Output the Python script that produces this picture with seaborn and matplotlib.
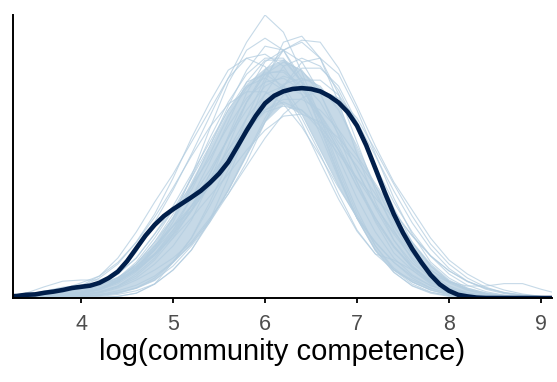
import numpy as np
import pandas as pd
import matplotlib
matplotlib.use("Agg")
import matplotlib.pyplot as plt
import seaborn as sns

# Evaluation grids for the observed density and the replicated densities
grid_y = np.round(np.arange(3.2, 9.2001, 0.1), 1)
grid_rep = np.round(np.arange(3.2, 9.2001, 0.2), 1)

# Density of the observed log(community competence)
y_density = [0.004, 0.005, 0.008, 0.009, 0.013, 0.016, 0.020, 0.025, 0.028, 0.031,
             0.038, 0.050, 0.066, 0.092, 0.124, 0.156, 0.183, 0.205, 0.222, 0.237,
             0.252, 0.268, 0.288, 0.311, 0.340, 0.379, 0.419, 0.456, 0.487, 0.506,
             0.517, 0.523, 0.525, 0.523, 0.517, 0.505, 0.489, 0.465, 0.431, 0.382,
             0.324, 0.265, 0.210, 0.163, 0.123, 0.089, 0.058, 0.034, 0.018, 0.008,
             0.004, 0.001, 0, 0, 0, 0, 0, 0, 0, 0, 0]

# Densities of posterior predictive draws
rep01 = [0.000, 0.001, 0.003, 0.008, 0.015, 0.030, 0.060, 0.115, 0.190, 0.270, 0.360, 0.455, 0.550, 0.640, 0.708, 0.665, 0.565, 0.450, 0.330, 0.220, 0.130, 0.070, 0.035, 0.015, 0.006, 0.002, 0.001, 0, 0, 0, 0]
rep02 = [0.002, 0.005, 0.011, 0.022, 0.038, 0.055, 0.100, 0.165, 0.240, 0.310, 0.390, 0.470, 0.550, 0.600, 0.610, 0.580, 0.510, 0.410, 0.300, 0.200, 0.120, 0.065, 0.030, 0.012, 0.004, 0.001, 0, 0, 0, 0, 0]
rep03 = [0, 0, 0.001, 0.003, 0.007, 0.015, 0.030, 0.060, 0.100, 0.160, 0.230, 0.310, 0.400, 0.490, 0.570, 0.620, 0.645, 0.640, 0.575, 0.480, 0.380, 0.290, 0.220, 0.150, 0.095, 0.060, 0.035, 0.020, 0.010, 0.004, 0.001]
rep04 = [0, 0.001, 0.003, 0.007, 0.014, 0.025, 0.045, 0.075, 0.120, 0.180, 0.250, 0.320, 0.400, 0.470, 0.530, 0.555, 0.540, 0.490, 0.410, 0.320, 0.230, 0.160, 0.100, 0.060, 0.040, 0.030, 0.030, 0.036, 0.036, 0.022, 0.010]
rep05 = [0, 0, 0.001, 0.003, 0.006, 0.012, 0.025, 0.045, 0.070, 0.100, 0.140, 0.200, 0.260, 0.340, 0.440, 0.530, 0.590, 0.600, 0.560, 0.470, 0.360, 0.250, 0.160, 0.090, 0.050, 0.025, 0.012, 0.005, 0.002, 0.001, 0]
rep06 = [0.001, 0.003, 0.007, 0.014, 0.022, 0.035, 0.060, 0.100, 0.160, 0.230, 0.310, 0.390, 0.470, 0.530, 0.550, 0.520, 0.450, 0.360, 0.260, 0.170, 0.110, 0.095, 0.070, 0.035, 0.012, 0.004, 0.001, 0, 0, 0, 0]
rep07 = [0, 0.001, 0.003, 0.006, 0.012, 0.022, 0.045, 0.085, 0.140, 0.210, 0.300, 0.400, 0.490, 0.560, 0.600, 0.600, 0.540, 0.430, 0.310, 0.200, 0.120, 0.070, 0.040, 0.020, 0.008, 0.003, 0.001, 0, 0, 0, 0]
rep08 = [0.004, 0.012, 0.028, 0.042, 0.045, 0.045, 0.060, 0.100, 0.160, 0.220, 0.280, 0.350, 0.430, 0.500, 0.540, 0.550, 0.520, 0.460, 0.380, 0.290, 0.200, 0.130, 0.075, 0.040, 0.020, 0.008, 0.003, 0.001, 0, 0, 0]
rep09 = [0, 0, 0, 0, 0.001, 0.002, 0.004, 0.012, 0.035, 0.090, 0.150, 0.240, 0.340, 0.450, 0.550, 0.620, 0.640, 0.600, 0.510, 0.390, 0.270, 0.170, 0.095, 0.050, 0.022, 0.009, 0.003, 0.001, 0, 0, 0]
rep10 = [0, 0.001, 0.002, 0.005, 0.011, 0.023, 0.046, 0.085, 0.140, 0.200, 0.270, 0.360, 0.455, 0.525, 0.565, 0.565, 0.526, 0.457, 0.369, 0.278, 0.194, 0.127, 0.077, 0.044, 0.023, 0.011, 0.005, 0.002, 0.001, 0, 0]
rep11 = [0.001, 0.003, 0.007, 0.014, 0.028, 0.050, 0.085, 0.140, 0.210, 0.300, 0.400, 0.490, 0.570, 0.600, 0.579, 0.520, 0.436, 0.340, 0.247, 0.167, 0.110, 0.070, 0.045, 0.025, 0.012, 0.005, 0.002, 0.001, 0, 0, 0]
rep12 = [0.001, 0.002, 0.003, 0.007, 0.013, 0.024, 0.041, 0.068, 0.106, 0.156, 0.217, 0.286, 0.356, 0.421, 0.470, 0.497, 0.497, 0.470, 0.421, 0.356, 0.286, 0.217, 0.156, 0.106, 0.068, 0.041, 0.024, 0.013, 0.007, 0.003, 0.002]
rep13 = [0, 0.001, 0.002, 0.005, 0.010, 0.020, 0.040, 0.075, 0.125, 0.200, 0.305, 0.424, 0.538, 0.620, 0.650, 0.620, 0.538, 0.424, 0.305, 0.199, 0.118, 0.064, 0.031, 0.014, 0.006, 0.002, 0.001, 0, 0, 0, 0]
rep14 = [0, 0.001, 0.001, 0.002, 0.004, 0.009, 0.018, 0.032, 0.055, 0.090, 0.135, 0.195, 0.268, 0.356, 0.441, 0.508, 0.545, 0.545, 0.508, 0.441, 0.356, 0.268, 0.188, 0.123, 0.074, 0.042, 0.022, 0.011, 0.005, 0.002, 0.001]
rep15 = [0, 0, 0.001, 0.003, 0.007, 0.014, 0.028, 0.050, 0.085, 0.130, 0.195, 0.291, 0.405, 0.513, 0.591, 0.620, 0.591, 0.513, 0.405, 0.291, 0.190, 0.113, 0.070, 0.038, 0.020, 0.009, 0.004, 0.002, 0.001, 0, 0]
rep16 = [0.002, 0.004, 0.008, 0.017, 0.031, 0.055, 0.089, 0.139, 0.202, 0.276, 0.355, 0.428, 0.485, 0.516, 0.516, 0.485, 0.428, 0.355, 0.276, 0.202, 0.139, 0.089, 0.055, 0.031, 0.017, 0.008, 0.004, 0.002, 0.001, 0, 0]
rep17 = [0, 0, 0.001, 0.002, 0.003, 0.006, 0.012, 0.025, 0.050, 0.090, 0.150, 0.230, 0.320, 0.420, 0.510, 0.580, 0.600, 0.580, 0.520, 0.430, 0.330, 0.240, 0.165, 0.105, 0.060, 0.032, 0.016, 0.007, 0.003, 0.001, 0]
rep18 = [0.002, 0.004, 0.008, 0.014, 0.022, 0.032, 0.050, 0.080, 0.120, 0.170, 0.230, 0.290, 0.360, 0.420, 0.465, 0.480, 0.470, 0.430, 0.370, 0.300, 0.230, 0.165, 0.110, 0.070, 0.042, 0.024, 0.013, 0.007, 0.003, 0.001, 0]
rep19 = [0, 0.001, 0.003, 0.007, 0.013, 0.022, 0.040, 0.075, 0.130, 0.180, 0.220, 0.280, 0.380, 0.490, 0.560, 0.570, 0.530, 0.450, 0.350, 0.250, 0.165, 0.100, 0.058, 0.031, 0.015, 0.007, 0.003, 0.001, 0, 0, 0]
rep20 = [0, 0, 0.001, 0.002, 0.004, 0.008, 0.014, 0.025, 0.045, 0.080, 0.130, 0.190, 0.260, 0.330, 0.400, 0.460, 0.500, 0.520, 0.500, 0.450, 0.370, 0.285, 0.205, 0.135, 0.085, 0.050, 0.027, 0.013, 0.006, 0.003, 0.001]
rep21 = [0.001, 0.003, 0.006, 0.012, 0.020, 0.030, 0.050, 0.090, 0.150, 0.220, 0.300, 0.380, 0.470, 0.540, 0.560, 0.530, 0.460, 0.370, 0.280, 0.200, 0.140, 0.090, 0.050, 0.025, 0.011, 0.004, 0.001, 0, 0, 0, 0]
rep22 = [0, 0, 0, 0, 0, 0.001, 0.004, 0.012, 0.035, 0.070, 0.120, 0.195, 0.300, 0.420, 0.540, 0.640, 0.655, 0.600, 0.490, 0.360, 0.240, 0.145, 0.080, 0.040, 0.018, 0.007, 0.002, 0.001, 0, 0, 0]
rep23 = [0.001, 0.002, 0.004, 0.008, 0.014, 0.024, 0.040, 0.070, 0.110, 0.165, 0.230, 0.300, 0.370, 0.430, 0.470, 0.490, 0.470, 0.420, 0.360, 0.300, 0.250, 0.200, 0.140, 0.085, 0.045, 0.022, 0.010, 0.004, 0.002, 0.001, 0]
rep24 = [0, 0.001, 0.002, 0.004, 0.008, 0.016, 0.030, 0.055, 0.095, 0.150, 0.220, 0.310, 0.400, 0.490, 0.560, 0.590, 0.570, 0.510, 0.420, 0.320, 0.225, 0.145, 0.088, 0.050, 0.026, 0.012, 0.005, 0.002, 0.001, 0, 0]
rep25 = [0.001, 0.002, 0.004, 0.008, 0.014, 0.024, 0.042, 0.070, 0.120, 0.190, 0.280, 0.380, 0.480, 0.570, 0.630, 0.620, 0.550, 0.440, 0.320, 0.210, 0.130, 0.075, 0.040, 0.020, 0.009, 0.004, 0.001, 0, 0, 0, 0]
rep26 = [0, 0, 0, 0.001, 0.002, 0.004, 0.009, 0.018, 0.035, 0.070, 0.120, 0.190, 0.270, 0.360, 0.450, 0.530, 0.575, 0.575, 0.530, 0.440, 0.330, 0.225, 0.140, 0.080, 0.042, 0.020, 0.009, 0.004, 0.002, 0.001, 0]
rep27 = [0.003, 0.008, 0.017, 0.027, 0.032, 0.035, 0.045, 0.070, 0.110, 0.160, 0.220, 0.290, 0.370, 0.450, 0.510, 0.530, 0.510, 0.450, 0.370, 0.280, 0.200, 0.130, 0.080, 0.045, 0.024, 0.012, 0.005, 0.002, 0.001, 0, 0]
rep28 = [0.001, 0.002, 0.005, 0.010, 0.018, 0.030, 0.050, 0.085, 0.130, 0.180, 0.230, 0.280, 0.340, 0.410, 0.480, 0.535, 0.550, 0.530, 0.470, 0.380, 0.280, 0.190, 0.120, 0.070, 0.038, 0.019, 0.009, 0.004, 0.002, 0.001, 0]
rep29 = [0, 0.001, 0.002, 0.005, 0.010, 0.020, 0.036, 0.065, 0.110, 0.170, 0.250, 0.340, 0.440, 0.540, 0.595, 0.595, 0.540, 0.460, 0.390, 0.330, 0.260, 0.180, 0.110, 0.060, 0.030, 0.014, 0.006, 0.002, 0.001, 0, 0]
rep30 = [0.002, 0.004, 0.008, 0.014, 0.022, 0.034, 0.052, 0.078, 0.110, 0.150, 0.200, 0.255, 0.310, 0.370, 0.420, 0.455, 0.460, 0.440, 0.400, 0.345, 0.280, 0.215, 0.155, 0.105, 0.068, 0.042, 0.025, 0.014, 0.008, 0.004, 0.002]

replicates = [rep01, rep02, rep03, rep04, rep05, rep06, rep07, rep08, rep09, rep10,
              rep11, rep12, rep13, rep14, rep15, rep16, rep17, rep18, rep19, rep20,
              rep21, rep22, rep23, rep24, rep25, rep26, rep27, rep28, rep29, rep30]

tick_values = [4, 5, 6, 7, 8, 9]
x_label = "log(community competence)"

sns.set_theme(style="white")
plt.rcParams["font.family"] = ["Liberation Sans", "DejaVu Sans"]

fig = plt.figure(figsize=(5.57, 3.82), dpi=100)
ax = fig.add_axes([13 / 557, 84 / 382, 539 / 557, 283 / 382])

rep_df = pd.concat(
    [pd.DataFrame({"x": grid_rep, "density": r, "draw": i}) for i, r in enumerate(replicates)],
    ignore_index=True,
)
obs_df = pd.DataFrame({"x": grid_y, "density": y_density})

# Where the draws overlap most densely they merge into a solid light band
rep_matrix = np.array(replicates)
core_lo = np.percentile(rep_matrix, 10, axis=0)
core_hi = np.percentile(rep_matrix, 75, axis=0)
ax.fill_between(grid_rep, core_lo, core_hi, color="#b3cde0", alpha=0.75, linewidth=0, zorder=1)

sns.lineplot(data=rep_df, x="x", y="density", units="draw", estimator=None, sort=False,
             color="#b3cde0", alpha=0.75, linewidth=0.8, ax=ax, zorder=2)
sns.lineplot(data=obs_df, x="x", y="density", color="#011f4b", linewidth=3.3, ax=ax, zorder=3)

ax.set_xlim(3.26, 9.12)
ax.set_ylim(0, rep_df["density"].max())

for side in ("top", "right"):
    ax.spines[side].set_visible(False)
for side in ("left", "bottom"):
    ax.spines[side].set_color("black")
    ax.spines[side].set_linewidth(1.4)
    ax.spines[side].set_zorder(4)

ax.set_yticks([])
ax.set_xticks(tick_values)
ax.set_xticklabels([str(t) for t in tick_values])
ax.tick_params(axis="x", length=3.6, width=1.3, color="black", labelcolor="#4d4d4d",
               labelsize=15.5, pad=8, bottom=True)
ax.set_xlabel(x_label, fontsize=21, color="black", labelpad=2)
ax.set_ylabel("")

fig.savefig("out.png", dpi=100)
